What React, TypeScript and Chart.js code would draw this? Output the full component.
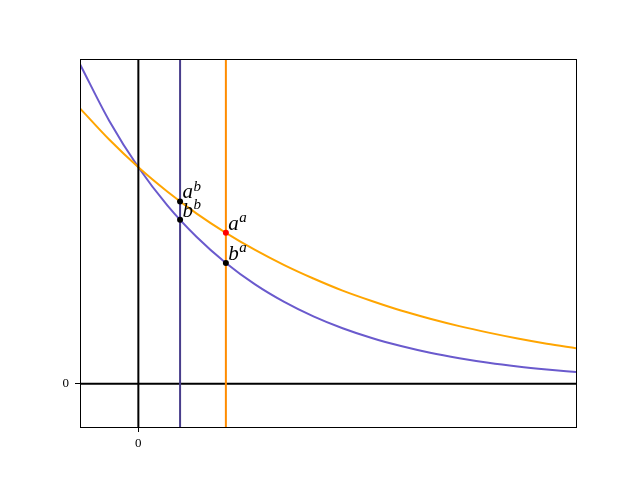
import React, { useEffect, useRef } from 'react';
import { Chart, registerables } from 'chart.js';

Chart.register(...registerables);

// ---- data ----
const xSamples = [-0.2, -0.1, 0, 0.1, 0.2, 0.3, 0.4, 0.5, 0.6, 0.7, 0.8, 0.9, 1.0, 1.1, 1.2, 1.3, 1.4, 1.5];
const orangeCurve = [1.272, 1.128, 1.0, 0.887, 0.786, 0.697, 0.618, 0.548, 0.486, 0.43, 0.382, 0.338, 0.3, 0.266, 0.236, 0.209, 0.185, 0.164];
const purpleCurve = [1.476, 1.215, 1.0, 0.823, 0.678, 0.558, 0.459, 0.378, 0.311, 0.256, 0.211, 0.174, 0.143, 0.118, 0.097, 0.08, 0.066, 0.054];
const aValue = 0.3;
const bValue = 0.143;
const pointBase = ['a', 'b', 'a', 'b'];
const pointExp = ['b', 'b', 'a', 'a'];
const pointX = [0.143, 0.143, 0.3, 0.3];
const pointY = [0.842, 0.757, 0.697, 0.558];
const pointColors = ['#000000', '#000000', '#ff0000', '#000000'];
const xLimits = [-0.2, 1.5];
const yLimits = [-0.2, 1.5];
const xTickValues = [0];
const yTickValues = [0];
const tickLabels = ['0'];

const labelPlugin = {
  id: 'powLabels',
  afterDatasetsDraw(chart: any) {
    const { ctx, scales } = chart;
    const xs = scales.x;
    const ys = scales.y;
    ctx.save();
    ctx.fillStyle = '#000';
    ctx.textBaseline = 'alphabetic';
    ctx.textAlign = 'left';
    for (let i = 0; i < pointX.length; i++) {
      const px = xs.getPixelForValue(pointX[i] + 0.008);
      const py = ys.getPixelForValue(pointY[i] + 0.015);
      ctx.font = 'italic 21px "Liberation Serif", serif';
      ctx.fillText(pointBase[i], px, py);
      const w = ctx.measureText(pointBase[i]).width;
      ctx.font = 'italic 15px "Liberation Serif", serif';
      ctx.fillText(pointExp[i], px + w + 0.5, py - 7.5);
    }
    ctx.restore();
  },
};

const framePlugin = {
  id: 'frame',
  afterDraw(chart: any) {
    const { ctx, chartArea } = chart;
    ctx.save();
    ctx.strokeStyle = '#000';
    ctx.lineWidth = 1;
    ctx.strokeRect(
      Math.round(chartArea.left) + 0.5,
      Math.round(chartArea.top) + 0.5,
      Math.round(chartArea.right - chartArea.left),
      Math.round(chartArea.bottom - chartArea.top)
    );
    ctx.restore();
  },
};

export default function App() {
  const ref = useRef<HTMLCanvasElement | null>(null);

  useEffect(() => {
    if (!ref.current) return;
    const line = (xsArr: number[], ysArr: number[]) => xsArr.map((x, i) => ({ x, y: ysArr[i] }));
    const chart = new Chart(ref.current, {
      type: 'scatter',
      data: {
        datasets: [
          {
            label: 'points',
            data: line(pointX, pointY),
            backgroundColor: pointColors,
            borderWidth: 0,
            pointRadius: 3,
            showLine: false,
          },
          {
            label: 'x = b',
            data: line([bValue, bValue], yLimits),
            borderColor: '#483d8b',
            borderWidth: 2,
            pointRadius: 0,
            showLine: true,
          },
          {
            label: 'x = a',
            data: line([aValue, aValue], yLimits),
            borderColor: '#ff8c00',
            borderWidth: 2,
            pointRadius: 0,
            showLine: true,
          },
          {
            label: 'x = 0',
            data: line([0, 0], yLimits),
            borderColor: '#000000',
            borderWidth: 2,
            pointRadius: 0,
            showLine: true,
          },
          {
            label: 'y = 0',
            data: line(xLimits, [0, 0]),
            borderColor: '#000000',
            borderWidth: 2,
            pointRadius: 0,
            showLine: true,
          },
          {
            label: 'a^x',
            data: line(xSamples, orangeCurve),
            borderColor: '#ffa500',
            borderWidth: 2,
            pointRadius: 0,
            showLine: true,
            cubicInterpolationMode: 'monotone',
          },
          {
            label: 'b^x',
            data: line(xSamples, purpleCurve),
            borderColor: '#6a5acd',
            borderWidth: 2,
            pointRadius: 0,
            showLine: true,
            cubicInterpolationMode: 'monotone',
          },
        ],
      },
      options: {
        animation: false,
        responsive: false,
        devicePixelRatio: 1,
        layout: { padding: { left: 0, top: 59, right: 64, bottom: 0 } },
        plugins: {
          legend: { display: false },
          tooltip: { enabled: false },
        },
        scales: {
          x: {
            type: 'linear',
            min: xLimits[0],
            max: xLimits[1],
            afterFit: (s: any) => { s.height = 53; },
            afterBuildTicks: (s: any) => { s.ticks = xTickValues.map((v) => ({ value: v })); },
            border: { display: false },
            grid: { drawOnChartArea: false, drawTicks: true, tickLength: 5, tickColor: '#000', color: '#000' },
            ticks: {
              padding: 4,
              color: '#000',
              font: { family: '"Liberation Serif", serif', size: 13 },
              callback: () => tickLabels[0],
              maxRotation: 0,
              autoSkip: false,
            },
          },
          y: {
            type: 'linear',
            min: yLimits[0],
            max: yLimits[1],
            afterFit: (s: any) => { s.width = 80; },
            afterBuildTicks: (s: any) => { s.ticks = yTickValues.map((v) => ({ value: v })); },
            border: { display: false },
            grid: { drawOnChartArea: false, drawTicks: true, tickLength: 5, tickColor: '#000', color: '#000' },
            ticks: {
              padding: 6,
              color: '#000',
              font: { family: '"Liberation Serif", serif', size: 13 },
              callback: () => tickLabels[0],
              autoSkip: false,
            },
          },
        },
      },
      plugins: [labelPlugin, framePlugin],
    });
    return () => chart.destroy();
  }, []);

  return (
    <div style={{ position: 'absolute', left: 0, top: 0, width: 640, height: 480, background: '#fff' }}>
      <canvas ref={ref} width={640} height={480} />
    </div>
  );
}
